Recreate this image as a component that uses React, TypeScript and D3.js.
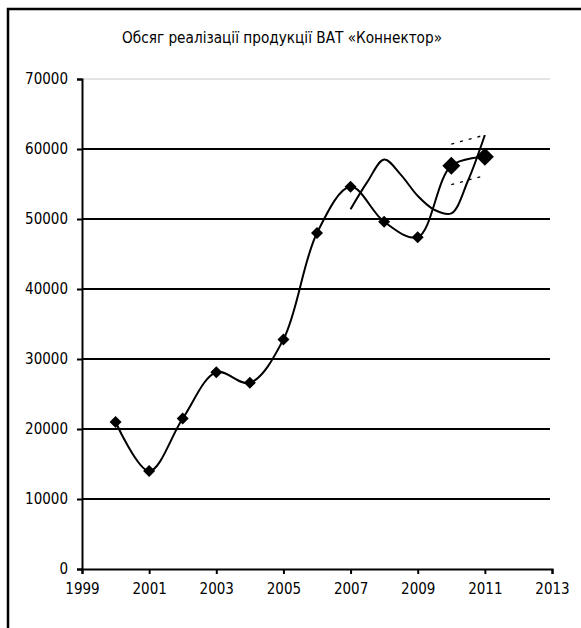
import { useEffect, useRef } from 'react';
import * as d3 from 'd3';

// main series: sales volume by year
const years = [2000, 2001, 2002, 2003, 2004, 2005, 2006, 2007, 2008, 2009, 2010, 2011];
const sales = [21000, 14000, 21500, 28100, 26600, 32800, 48000, 54600, 49600, 47400, 57600, 58900];
const bigMarkerYears = [2010, 2011];

// second smoothed curve (2007-2011)
const trendYears = [2007, 2007.5, 2008, 2008.5, 2009, 2009.5, 2010, 2010.5, 2011];
const trendValues = [51400, 55300, 58500, 56300, 53300, 51300, 50800, 55500, 62000];

// dotted bounds
const boundYears = [2010, 2011];
const upperBound = [60700, 62000];
const lowerBound = [54900, 56200];

const xTicks = [1999, 2001, 2003, 2005, 2007, 2009, 2011, 2013];
const yTicks = [0, 10000, 20000, 30000, 40000, 50000, 60000, 70000];

const title = 'Обсяг реалізації продукції ВАТ «Коннектор»';

const App = () => {
    const svgRef = useRef<SVGSVGElement>(null);

    useEffect(() => {
        if (!svgRef.current) return;
        const svg = d3.select(svgRef.current);
        svg.selectAll('*').remove();

        const font = '"DejaVu Sans Condensed", "DejaVu Sans", sans-serif';
        const left = 82, right = 552, top = 79, bottom = 569;

        const x = d3.scaleLinear().domain([1999, 2013]).range([left, right]);
        const y = d3.scaleLinear().domain([0, 70000]).range([bottom, top]);

        // outer frame
        svg.append('rect')
            .attr('x', 8).attr('y', 9)
            .attr('width', 700).attr('height', 700)
            .attr('fill', 'none')
            .attr('stroke', '#000')
            .attr('stroke-width', 2.5);

        // title
        svg.append('text')
            .attr('x', 282).attr('y', 43)
            .attr('text-anchor', 'middle')
            .style('font-family', font)
            .style('font-size', '15.2px')
            .text(title);

        // grid lines
        svg.append('g')
            .selectAll('line')
            .data(yTicks.filter(d => d > 0))
            .enter()
            .append('line')
            .attr('x1', left).attr('x2', right - 2)
            .attr('y1', d => y(d)).attr('y2', d => y(d))
            .attr('stroke', d => d === 70000 ? '#c8c8c8' : '#000')
            .attr('stroke-width', d => d === 70000 ? 1 : 2);

        // y axis
        const yAxis = svg.append('g')
            .attr('transform', `translate(${left},0)`)
            .call(d3.axisLeft(y).tickValues(yTicks).tickSize(5).tickPadding(9).tickFormat(d => String(d)));
        yAxis.select('.domain').attr('stroke-width', 2);
        yAxis.selectAll('.tick line').attr('stroke-width', 2);
        yAxis.selectAll('text')
            .style('font-family', font)
            .style('font-size', '15px')
            .attr('fill', '#000');

        // x axis
        const xAxis = svg.append('g')
            .attr('transform', `translate(0,${bottom})`)
            .call(d3.axisBottom(x).tickValues(xTicks).tickSize(5).tickSizeOuter(5).tickPadding(9).tickFormat(d => String(d)));
        xAxis.select('.domain').attr('stroke-width', 2);
        xAxis.selectAll('.tick line').attr('stroke-width', 2);
        xAxis.selectAll('text')
            .style('font-family', font)
            .style('font-size', '15px')
            .attr('fill', '#000');

        const smooth = d3.line<[number, number]>()
            .x(d => x(d[0]))
            .y(d => y(d[1]))
            .curve(d3.curveCatmullRom.alpha(0.5));

        // trend curve
        svg.append('path')
            .datum(trendYears.map((t, i) => [t, trendValues[i]] as [number, number]))
            .attr('fill', 'none')
            .attr('stroke', '#000')
            .attr('stroke-width', 2)
            .attr('d', smooth);

        // dotted bounds
        [upperBound, lowerBound].forEach(b => {
            svg.append('path')
                .datum(boundYears.map((t, i) => [t, b[i]] as [number, number]))
                .attr('fill', 'none')
                .attr('stroke', '#000')
                .attr('stroke-width', 1.3)
                .attr('stroke-dasharray', '3,6')
                .attr('d', d3.line<[number, number]>().x(d => x(d[0])).y(d => y(d[1])));
        });

        // main line
        const pts = years.map((t, i) => [t, sales[i]] as [number, number]);
        svg.append('path')
            .datum(pts)
            .attr('fill', 'none')
            .attr('stroke', '#000')
            .attr('stroke-width', 2)
            .attr('d', smooth);

        // markers
        const diamond = (s: number) => `M0,${-s}L${s},0L0,${s}L${-s},0Z`;
        svg.selectAll('.dot')
            .data(pts)
            .enter()
            .append('path')
            .attr('class', 'dot')
            .attr('transform', d => `translate(${x(d[0])},${y(d[1])})`)
            .attr('d', d => diamond(bigMarkerYears.includes(d[0]) ? 9 : 6))
            .attr('fill', '#000');
    }, []);

    return (
        <svg ref={svgRef} width={581} height={628}
            style={{ position: 'absolute', left: 0, top: 0, background: '#fff' }}
            role="img" aria-label={title}></svg>
    );
};

export default App;
